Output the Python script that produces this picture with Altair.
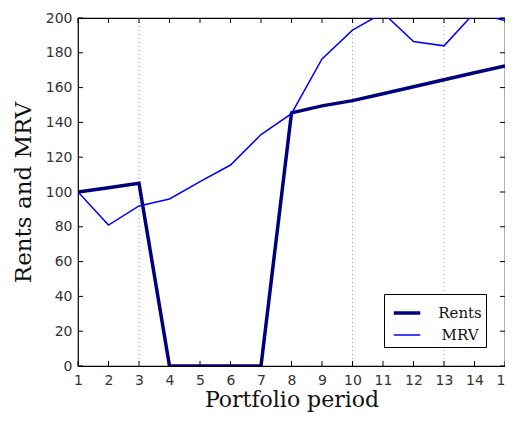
import altair as alt
import pandas as pd

periods = list(range(1, 16))
rents = [100, 102.5, 105, 0, 0, 0, 0, 145.5, 149.5, 152.5, 156.5, 160.5, 164.5, 168.5, 172.5]
mrv = [100, 81, 92, 96, 106, 115.5, 133, 145, 176.5, 193, 203, 186.5, 184, 203, 198.5]
marker_periods = [3, 10, 13]
y_ticks = list(range(0, 201, 20))

W, H = 427, 348

df = pd.DataFrame({
    "period": periods * 2,
    "value": rents + mrv,
    "series": ["Rents"] * len(periods) + ["MRV"] * len(periods),
})
xt = pd.DataFrame({"period": periods})
yt = pd.DataFrame({"value": y_ticks})
vm = pd.DataFrame({"period": marker_periods})

xs = alt.Scale(domain=[1, 15], nice=False, zero=False)
ys = alt.Scale(domain=[0, 200], nice=False)

x_axis = alt.Axis(values=periods, tickSize=0, domain=False, grid=False,
                  labelFont="DejaVu Sans", labelFontSize=14, labelColor="#333",
                  labelPadding=7, labelOverlap=False, title="Portfolio period",
                  titleFont="DejaVu Serif", titleFontSize=22, titleFontWeight="normal",
                  titleColor="#111", titlePadding=2, labelFlush=False)
y_axis = alt.Axis(values=y_ticks, tickSize=0, domain=False, grid=False,
                  labelFont="DejaVu Sans", labelFontSize=14, labelColor="#333",
                  labelPadding=6, labelOverlap=False, title="Rents and MRV",
                  titleFont="DejaVu Serif", titleFontSize=23, titleFontWeight="normal",
                  titleColor="#111", titlePadding=10)

vlines = alt.Chart(vm).mark_rule(color="#999", strokeDash=[1, 3], strokeWidth=1).encode(
    x=alt.X("period:Q", scale=xs, axis=x_axis)
)

lines = alt.Chart(df).mark_line(clip=True).encode(
    x=alt.X("period:Q", scale=xs, axis=x_axis),
    y=alt.Y("value:Q", scale=ys, axis=y_axis),
    color=alt.Color("series:N",
                    scale=alt.Scale(domain=["Rents", "MRV"], range=["#00007F", "#0000FF"]),
                    legend=alt.Legend(title=None)),
    strokeWidth=alt.StrokeWidth("series:N",
                                scale=alt.Scale(domain=["Rents", "MRV"], range=[3.5, 1.5]),
                                legend=alt.Legend(title=None)),
    order=alt.Order("period:Q"),
)

tick_bottom = alt.Chart(xt).mark_rule(color="black").encode(
    x=alt.X("period:Q", scale=xs, axis=x_axis), y=alt.value(H), y2=alt.value(H - 5))
tick_top = alt.Chart(xt).mark_rule(color="black").encode(
    x=alt.X("period:Q", scale=xs, axis=x_axis), y=alt.value(0), y2=alt.value(5))
tick_left = alt.Chart(yt).mark_rule(color="black").encode(
    y=alt.Y("value:Q", scale=ys, axis=y_axis), x=alt.value(0), x2=alt.value(5))
tick_right = alt.Chart(yt).mark_rule(color="black").encode(
    y=alt.Y("value:Q", scale=ys, axis=y_axis), x=alt.value(W), x2=alt.value(W - 5))

chart = alt.layer(vlines, lines, tick_bottom, tick_top, tick_left, tick_right).properties(
    width=W, height=H,
    autosize=alt.AutoSizeParams(type="none"),
    padding={"left": 70, "top": 10, "right": 0, "bottom": 49},
).configure_view(
    stroke="black", strokeWidth=1.2
).configure_axis(
    labelOverlap=False
).configure_legend(
    orient="none", legendX=306, legendY=276,
    strokeColor="black", fillColor="white", padding=4,
    symbolType="stroke", symbolSize=700, symbolStrokeColor="black", symbolOffset=4,
    labelFont="DejaVu Serif", labelFontSize=15, labelColor="#111",
    labelAlign="center", labelOffset=38, rowPadding=0,
    cornerRadius=0,
)

chart.save("out.html", embed_options={"renderer": "svg", "actions": False})
